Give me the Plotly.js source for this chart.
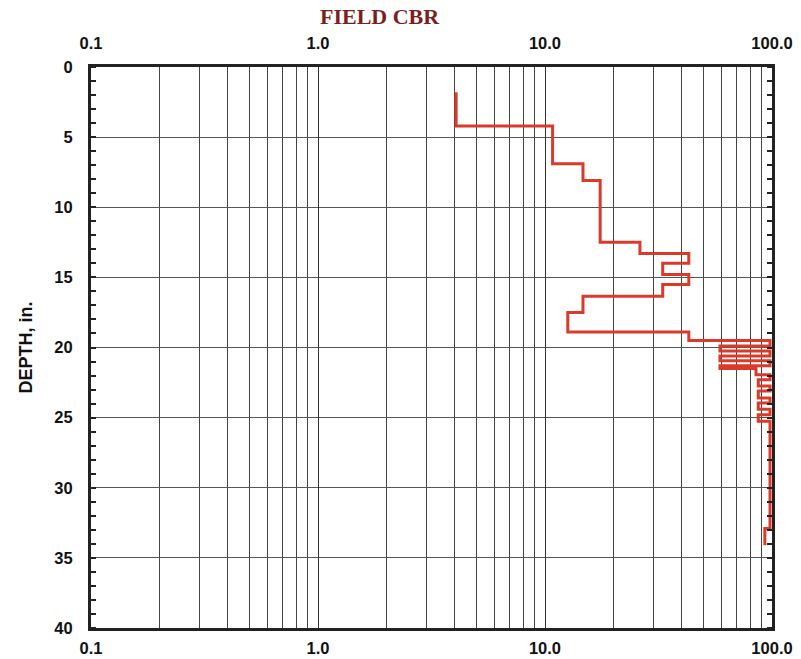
<!DOCTYPE html>
<html>
<head>
<meta charset="utf-8">
<script src="https://cdn.plot.ly/plotly-3.0.1.min.js"></script>
<style>html,body{margin:0;padding:0;background:#fff;}</style>
</head>
<body>
<div id="chart" style="width:801px;height:659px;"></div>
<script>
// Field CBR (x) vs depth in inches (y); step profile, each point = depth where CBR changes
const cbr   = [4.06, 10.8, 14.7, 17.5, 26.2, 43, 33, 43, 33, 14.7, 12.6, 43, 98, 59, 98, 59, 98, 59, 85, 98, 87, 98, 87, 98, 87, 98, 87, 98, 93, 93];
const depth = [1.8, 4.2, 6.9, 8.1, 12.5, 13.3, 14.0, 14.8, 15.5, 16.35, 17.5, 18.9, 19.5, 19.9, 20.25, 20.6, 20.95, 21.3, 21.5, 21.95, 22.3, 22.75, 23.1, 23.6, 23.95, 24.4, 24.8, 25.25, 32.9, 34.1];
const xTickVals = [0.1, 1, 10, 100];
const xTickText = ['0.1', '1.0', '10.0', '100.0'];
const yTickVals = [0, 5, 10, 15, 20, 25, 30, 35, 40];

const tickFont = {family: 'Liberation Sans, Arial, sans-serif', size: 16.5, color: '#111', weight: 'bold'};

const trace = {
  x: cbr, y: depth, type: 'scatter', mode: 'lines',
  line: {shape: 'vh', color: '#db3a2a', width: 3},
  xaxis: 'x', yaxis: 'y', hoverinfo: 'skip'
};
const ghost = {
  x: cbr, y: depth, type: 'scatter', mode: 'lines',
  line: {width: 0}, xaxis: 'x2', yaxis: 'y', hoverinfo: 'skip', showlegend: false
};

const xCommon = {
  type: 'log', range: [-1, 2],
  tickvals: xTickVals, ticktext: xTickText,
  tickfont: tickFont, ticks: '',
  showgrid: true, gridcolor: '#333', gridwidth: 1,
  minor: {dtick: 'D1', showgrid: true, gridcolor: '#444', gridwidth: 1, ticks: ''},
  showline: true, linecolor: '#222', linewidth: 3, zeroline: false
};

const layout = {
  width: 801, height: 659,
  margin: {l: 91, r: 29, t: 67, b: 31},
  paper_bgcolor: '#fff', plot_bgcolor: '#fff',
  showlegend: false,
  xaxis: Object.assign({}, xCommon, {side: 'bottom', mirror: true, ticklabelstandoff: 3}),
  xaxis2: Object.assign({}, xCommon, {overlaying: 'x', side: 'top', matches: 'x', ticklabelstandoff: 8}),
  yaxis: {
    range: [40, 0], tickvals: yTickVals, tickfont: tickFont,
    ticks: '', showgrid: true, gridcolor: '#555', gridwidth: 1,
    minor: {dtick: 1, ticks: 'inside', ticklen: 5, tickwidth: 2, tickcolor: '#222', showgrid: false},
    showline: true, linecolor: '#222', linewidth: 3, mirror: 'allticks', zeroline: false,
    ticklabelstandoff: 12,
    title: {text: 'DEPTH, in.', font: {family: 'Liberation Sans, Arial, sans-serif', size: 18, color: '#111', weight: 'bold'}, standoff: 18}
  },
  annotations: [{
    text: 'FIELD CBR', xref: 'paper', yref: 'paper',
    x: (380 - 91) / 681, y: 1 + (67 - 16) / 561, xanchor: 'center', yanchor: 'middle',
    showarrow: false, font: {family: 'Liberation Serif, Times New Roman, serif', size: 22, color: '#7b1e1e', weight: 'bold'}
  }]
};

Plotly.newPlot('chart', [trace, ghost], layout, {staticPlot: true, displayModeBar: false});
</script>
</body>
</html>
